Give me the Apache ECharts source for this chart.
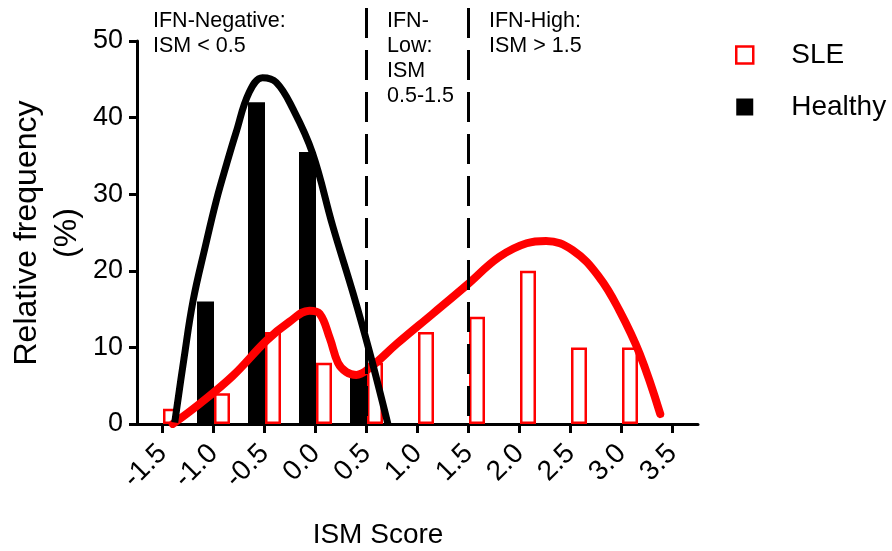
<!DOCTYPE html>
<html><head><meta charset="utf-8">
<script src="https://cdn.jsdelivr.net/npm/echarts@6/dist/echarts.min.js"></script>
<style>html,body{margin:0;padding:0;background:#fff}#c{width:892px;height:551px}</style>
</head><body><div id="c"></div>
<script>
// ---- data ----
const sleBins = [-1.5, -1.0, -0.5, 0.0, 0.5, 1.0, 1.5, 2.0, 2.5, 3.0];
const sleFreq = [2, 4, 12, 8, 8, 12, 14, 20, 10, 10];
const healthyBins = [-1.0, -0.5, 0.0, 0.5];
const healthyFreq = [16, 42, 35.5, 6.5];
const sleCurveX = [-1.40, -1.14, -0.81, -0.48, -0.26, -0.06, 0.04, 0.14, 0.22, 0.30, 0.40, 0.53, 0.80, 1.15, 1.48, 1.80, 2.07, 2.26, 2.52, 2.78, 2.98, 3.18, 3.38];
const sleCurveY = [0.0, 2.6, 6.3, 10.9, 13.3, 14.8, 14.4, 11.2, 8.0, 6.8, 6.4, 7.3, 10.5, 14.4, 18.1, 21.8, 23.6, 23.9, 22.7, 19.2, 14.8, 9.1, 1.3];
const healthyCurveX = [-1.38, -1.29, -1.20, -1.08, -0.97, -0.87, -0.78, -0.65, -0.52, -0.385, -0.22, -0.03, 0.17, 0.37, 0.53, 0.71];
const healthyCurveY = [0.2, 8.5, 16.1, 23.2, 29.3, 34.0, 38.0, 43.3, 45.2, 44.6, 41.1, 35.4, 25.8, 17.0, 9.4, 0.0];
const xTicks = [-1.5, -1.0, -0.5, 0.0, 0.5, 1.0, 1.5, 2.0, 2.5, 3.0, 3.5];
const thresholds = [0.5, 1.5];
const FONT = 'Liberation Sans, Arial, sans-serif';

const chart = echarts.init(document.getElementById('c'), null, {renderer: 'canvas'});
const zip = (xs, ys) => xs.map((x, i) => [x, ys[i]]);

chart.setOption({
  animation: false,
  backgroundColor: '#fff',
  grid: {left: 137, right: 194, top: 41, bottom: 127, containLabel: false},
  xAxis: {
    type: 'value', min: -1.75, max: 3.75,
    axisLine: {show: true, onZero: false, lineStyle: {color: '#000', width: 3}},
    axisTick: {show: true, customValues: xTicks, length: 9, lineStyle: {color: '#000', width: 3}},
    axisLabel: {customValues: xTicks, rotate: 45, margin: 25, fontSize: 28, color: '#000', fontFamily: FONT,
      formatter: v => Number(v).toFixed(1)},
    splitLine: {show: false}
  },
  yAxis: {
    type: 'value', min: 0, max: 50, interval: 10,
    axisLine: {show: true, onZero: false, lineStyle: {color: '#000', width: 3}},
    axisTick: {show: true, length: 8, lineStyle: {color: '#000', width: 3}},
    axisLabel: {margin: 14, fontSize: 27, color: '#000', fontFamily: FONT},
    splitLine: {show: false}
  },
  legend: {
    orient: 'vertical', left: 735, top: 40, padding: 0, itemWidth: 17, itemHeight: 17, itemGap: 22,
    data: [
      {name: 'SLE', icon: 'rect', itemStyle: {color: '#fff', borderColor: '#ff0000', borderWidth: 2.5}},
      {name: 'Healthy', icon: 'rect', itemStyle: {color: '#000', borderWidth: 0}}
    ],
    textStyle: {fontSize: 28, color: '#000', fontFamily: FONT, padding: [0, 0, 0, 33], lineHeight: 30}
  },
  graphic: [
    {type: 'text', x: 378, y: 535, style: {text: 'ISM Score', fontSize: 28, fontFamily: FONT, fill: '#000', textAlign: 'center', textVerticalAlign: 'middle'}},
    {type: 'text', x: 47, y: 233, rotation: Math.PI / 2, style: {text: 'Relative frequency\n(%)', fontSize: 32, lineHeight: 40, fontFamily: FONT, fill: '#000', textAlign: 'center', textVerticalAlign: 'middle'}},
    {type: 'text', x: 153, y: 9, style: {text: 'IFN-Negative:\nISM < 0.5', fontSize: 21.5, lineHeight: 25, fontFamily: FONT, fill: '#000'}},
    {type: 'text', x: 387, y: 9, style: {text: 'IFN-\nLow:\nISM\n0.5-1.5', fontSize: 21.5, lineHeight: 25, fontFamily: FONT, fill: '#000'}},
    {type: 'text', x: 489, y: 9, style: {text: 'IFN-High:\nISM > 1.5', fontSize: 21.5, lineHeight: 25, fontFamily: FONT, fill: '#000'}}
  ],
  series: [
    {name: 'Healthy', type: 'bar', barWidth: 17, barGap: '0%', z: 2,
      itemStyle: {color: '#000'}, data: zip(healthyBins, healthyFreq)},
    {name: 'SLE', type: 'bar', barWidth: 16, barGap: '0%', z: 3,
      itemStyle: {color: '#fff', borderColor: '#ff0000', borderWidth: 2.5}, data: zip(sleBins, sleFreq)},
    {name: 'SLE fit', type: 'line', smooth: 0.4, symbol: 'none', z: 4,
      lineStyle: {color: '#ff0000', width: 8, cap: 'round'}, data: zip(sleCurveX, sleCurveY)},
    {name: 'Healthy fit', type: 'line', smooth: 0.4, symbol: 'none', z: 5,
      lineStyle: {color: '#000', width: 7}, data: zip(healthyCurveX, healthyCurveY)},
    {name: 'thresholds', type: 'custom', z: 6, clip: false,
      data: thresholds.map(t => [t, 0]),
      renderItem: (params, api) => {
        const p0 = api.coord([api.value(0), 54.3]);
        const p1 = api.coord([api.value(0), 0]);
        return {type: 'line', shape: {x1: p0[0], y1: p0[1], x2: p1[0], y2: p1[1]},
          style: {stroke: '#000', lineWidth: 3, lineDash: [30, 12]}};
      }}
  ]
});
</script></body></html>
